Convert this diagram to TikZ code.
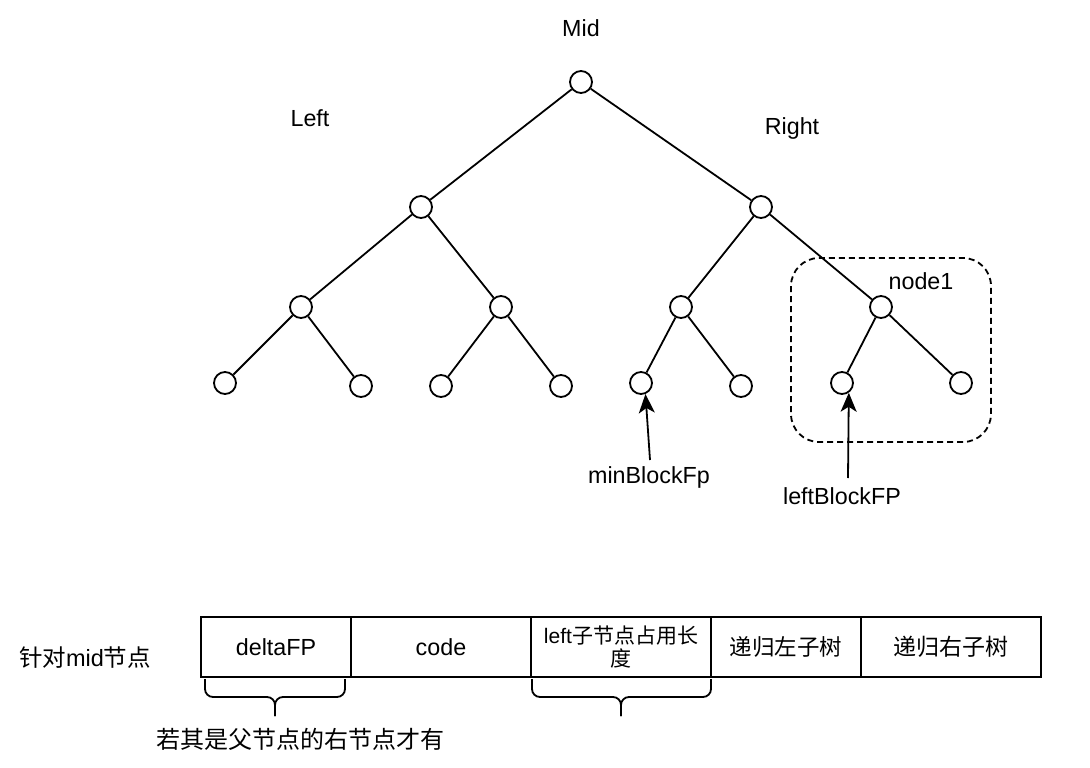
\documentclass[tikz,border=0pt]{standalone}
\usepackage{fontspec}
\setmainfont{Liberation Sans}
\newfontfamily\cjk{Noto Sans CJK SC}
\usetikzlibrary{arrows.meta}
\begin{document}
\begin{tikzpicture}[x=1pt,y=-1pt,
  tn/.style={circle,draw,line width=1.8pt,minimum size=22pt,inner sep=0pt,fill=white},
  edge/.style={line width=1.8pt},
  lbl/.style={font=\fontsize{23.3}{26}\selectfont,inner sep=0pt},
  cell/.style={draw,line width=1.8pt,minimum height=60pt,inner sep=0pt,font=\fontsize{23.3}{26}\selectfont,align=center},
  ptr/.style={line width=1.8pt,-{Stealth[length=19pt,width=16pt,inset=5pt]}},
  brace/.style={line width=1.8pt,rounded corners=8pt}]
\useasboundingbox (0,0) rectangle (1090,768);
% dashed group
\draw[line width=1.8pt,dash pattern=on 6pt off 4pt,rounded corners=28pt] (791,258) rectangle (991,442);
% tree nodes
\node[tn] (root) at (581,82) {};
\node[tn] (a) at (421,207) {};
\node[tn] (b) at (761,207) {};
\node[tn] (c1) at (301,307) {};
\node[tn] (c2) at (501,307) {};
\node[tn] (c3) at (681,307) {};
\node[tn] (c4) at (881,307) {};
\node[tn] (l1) at (225,383) {};
\node[tn] (l2) at (361,386) {};
\node[tn] (l3) at (441,386) {};
\node[tn] (l4) at (561,386) {};
\node[tn] (l5) at (641,383) {};
\node[tn] (l6) at (741,386) {};
\node[tn] (l7) at (842,383) {};
\node[tn] (l8) at (961,383) {};
% edges
\draw[edge] (root) -- (a);
\draw[edge] (root) -- (b);
\draw[edge] (a) -- (c1);
\draw[edge] (a) -- (c2);
\draw[edge] (b) -- (c3);
\draw[edge] (b) -- (c4);
\draw[edge] (c1) -- (l1);
\draw[edge] (c1) -- (l2);
\draw[edge] (c2) -- (l3);
\draw[edge] (c2) -- (l4);
\draw[edge] (c3) -- (l5);
\draw[edge] (c3) -- (l6);
\draw[edge] (c4) -- (l7);
\draw[edge] (c4) -- (l8);
% labels
\node[lbl] (mid) at (581,28) {Mid};
\node[lbl] (left) at (310,118) {Left};
\node[lbl] (right) at (792,128) {Right};
\node[lbl] (n1) at (921,281) {node1};
\node[lbl] (minl) at (649,477) {minBlockFp};
\node[lbl] (leftl) at (842,496) {leftBlockFP};
\coordinate (p1) at (650,460);
\coordinate (p2) at (848,478);
\draw[ptr] (p1) -- (l5.-68);
\draw[ptr] (p2) -- (l7.-55);
% table
\node[lbl,font=\fontsize{23.5}{26}\selectfont] (fmid) at (85,658) {{\cjk 针对}mid{\cjk 节点}};
\node[cell,minimum width=150pt] (t1) at (276,647) {deltaFP};
\node[cell,minimum width=180pt] (t2) at (441,647) {code};
\node[cell,minimum width=180pt] (t3) at (621,647) {};
\node[lbl,align=center,font=\fontsize{21}{23}\selectfont] (t3txt) at (621,647) {left{\cjk 子节点占用长}\\{\cjk 度}};
\node[cell,minimum width=150pt,font=\fontsize{22.5}{25}\selectfont\cjk] (t4) at (786,647) {递归左子树};
\node[cell,minimum width=180pt,font=\fontsize{23}{25}\selectfont\cjk] (t5) at (951,647) {递归右子树};
% braces
\draw[brace] (205,679) -- (205,697) -- (275,697) -- (275,716);
\draw[brace] (345,679) -- (345,697) -- (275,697) -- (275,716);
\draw[brace] (532,679) -- (532,697) -- (621,697) -- (621,716);
\draw[brace] (711,679) -- (711,697) -- (621,697) -- (621,716);
\node[lbl,font=\fontsize{24}{26}\selectfont\cjk] (note) at (300,739) {若其是父节点的右节点才有};
\end{tikzpicture}
\end{document}
